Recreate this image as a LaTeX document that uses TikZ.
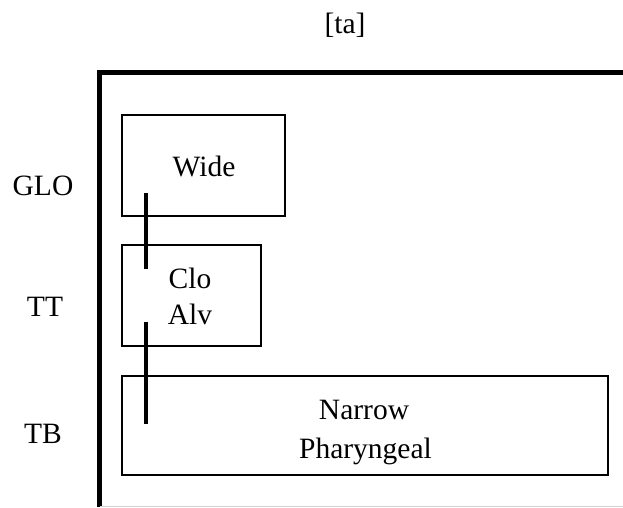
\documentclass[tikz,border=0pt]{standalone}
\usepackage{fontspec}
\setmainfont{Liberation Serif}
\begin{document}
\begin{tikzpicture}[x=1pt,y=-1pt,
  txt/.style={font=\fontsize{29.5}{36}\selectfont, inner sep=0pt, anchor=base},
  gbox/.style={draw, line width=2pt, inner sep=0pt},
  gbar/.style={line width=4pt}]
\useasboundingbox (0,0) rectangle (623,507);
% frame
\draw[line width=5pt] (99.5,507) -- (99.5,72.5) -- (623,72.5);
\draw[gray!35, line width=1pt] (100,506) -- (623,506);
% title and tier labels
\node[txt] (title) at (345,33) {[ta]};
\node[txt] (glo) at (43,195) {GLO};
\node[txt] (tt) at (45,316) {TT};
\node[txt] (tb) at (43,443) {TB};
% gesture boxes
\node[gbox, minimum width=163pt, minimum height=101pt] (wide) at (203.5,165.5) {};
\node[gbox, minimum width=139pt, minimum height=101pt] (clo) at (191.5,295.5) {};
\node[gbox, minimum width=486pt, minimum height=99pt] (narrow) at (365,425.5) {};
% texts
\node[txt] (twide) at (204,176) {Wide};
\node[txt] (tclo) at (190,288) {Clo};
\node[txt] (talv) at (190,324) {Alv};
\node[txt] (tnarrow) at (364,419) {Narrow};
\node[txt] (tphar) at (365.5,458) {Pharyngeal};
% phasing bars
\coordinate (b1t) at (146,193);
\coordinate (b1b) at (146,269);
\coordinate (b2t) at (146,322);
\coordinate (b2b) at (146,424);
\draw[gbar] (b1t) -- (b1b);
\draw[gbar] (b2t) -- (b2b);
\end{tikzpicture}
\end{document}
